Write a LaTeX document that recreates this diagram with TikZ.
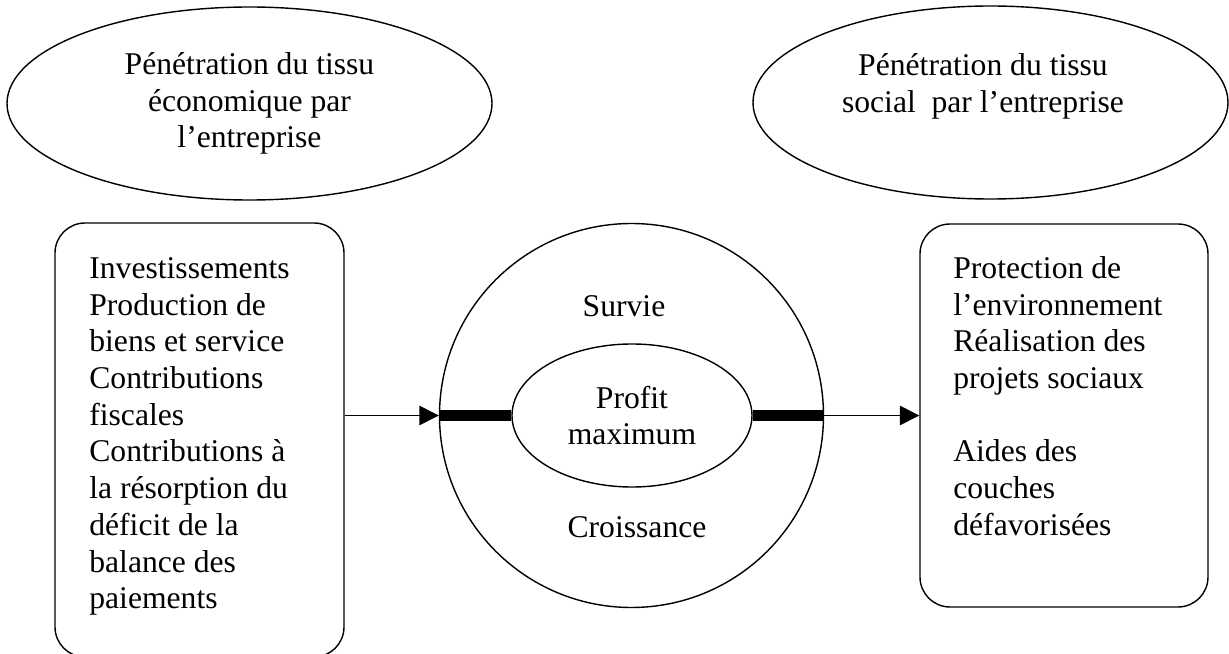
\documentclass[tikz,border=0pt]{standalone}
\usepackage{fontspec}
\setmainfont{Liberation Serif}
\usepackage{tikz}
\usetikzlibrary{arrows.meta,positioning,shapes.geometric}

\begin{document}
\begin{tikzpicture}[
  txt/.style={font=\fontsize{18}{20.9}\selectfont,inner sep=0pt},
  bubble/.style={draw,ellipse,inner sep=0pt,line width=0.8pt},
  panel/.style={draw,rectangle,rounded corners=0.6cm,line width=0.8pt},
  link/.style={-{Triangle[length=11pt,width=11pt]},line width=0.8pt},
  bar/.style={line width=5.7pt}]
  \useasboundingbox (0,0) rectangle (24.58,-13.08);
  % the two bubbles on top
  \node[bubble,txt,align=center,minimum width=9.7cm,minimum height=3.86cm] (ecoL) at (4.99,-2.07)
     {P\'en\'etration du tissu\\\'economique par\\l'entreprise};
  \node[bubble,minimum width=9.5cm,minimum height=3.86cm] (socR) at (19.81,-2.05) {};
  \node[txt,align=center] (socT) at (19.66,-1.73) {P\'en\'etration du tissu\\social\ \ par l'entreprise};
  % left and right panels
  \node[panel,minimum width=5.78cm,minimum height=8.68cm] (boxL) at (3.99,-8.8) {};
  \node[txt,align=left,anchor=north west] (boxLT) at (1.78,-5.14)
     {Investissements\\Production de\\biens et service\\Contributions\\fiscales\\Contributions \`a\\la r\'esorption du\\d\'eficit de la\\balance des\\paiements};
  \node[panel,minimum width=5.76cm,minimum height=7.66cm] (boxR) at (21.28,-8.31) {};
  \node[txt,align=left,anchor=north west] (boxRT) at (19.06,-5.12)
     {Protection de\\l'environnement\\R\'ealisation des\\projets sociaux\\[20.9pt]Aides des\\couches\\d\'efavoris\'ees};
  % the firm in the middle
  \node[draw,circle,inner sep=0pt,line width=0.8pt,minimum size=7.68cm] (firm) at (12.63,-8.31) {};
  \node[bubble,txt,align=center,minimum width=4.8cm,minimum height=2.86cm] (profit) at (12.64,-8.31) {Profit\\maximum};
  \node[txt,anchor=base] (survie) at (12.48,-6.34) {Survie};
  \node[txt,anchor=base] (crois) at (12.74,-10.74) {Croissance};
  % flows
  \draw[link] (firm.west -| boxL.east) -- (firm.west);
  \draw[bar] (firm.west) -- (profit.west);
  \draw[bar] (profit.east) -- (firm.east);
  \draw[link] (firm.east) -- (boxR.west);
\end{tikzpicture}
\end{document}
